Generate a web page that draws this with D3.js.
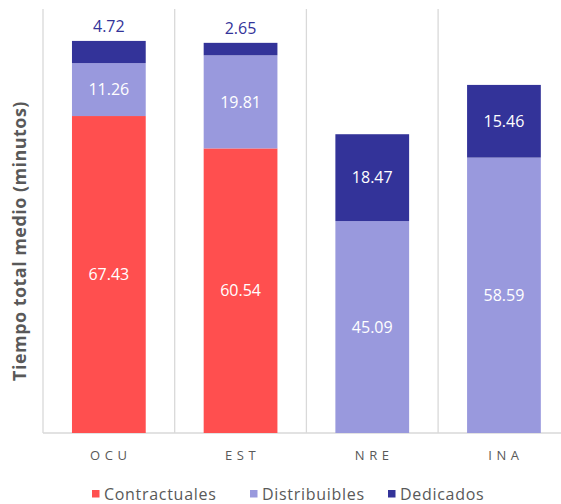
<!DOCTYPE html>
<html>
<head>
<meta charset="utf-8">
<script src="https://cdn.jsdelivr.net/npm/d3@7"></script>
<style>
  body { margin: 0; background: #fff; }
  svg { display: block; }
</style>
</head>
<body>
<svg id="chart" width="561" height="504"></svg>
<script>
const categories = ["OCU", "EST", "NRE", "INA"];
const seriesNames = ["Contractuales", "Distribuibles", "Dedicados"];
const contractuales = [67.43, 60.54, 0, 0];
const distribuibles = [11.26, 19.81, 45.09, 58.59];
const dedicados = [4.72, 2.65, 18.47, 15.46];
const colors = ["#FF4F4F", "#9999DD", "#333399"];

const svg = d3.select("#chart");
const margin = { left: 43, top: 9, bottom: 433 };
const catWidth = 131.7;

var x = d3
  .scaleBand()
  .domain(categories)
  .range([margin.left, margin.left + catWidth * categories.length])
  .padding(0);
var y = d3.scaleLinear().domain([0, 90.2]).range([margin.bottom, margin.top]);

const barW = x.bandwidth() * 0.56;

// build stacked rows
var rows = categories.map((c, i) => ({
  cat: c,
  Contractuales: contractuales[i],
  Distribuibles: distribuibles[i],
  Dedicados: dedicados[i],
}));
var stack = d3.stack().keys(seriesNames)(rows);

// vertical separators
svg
  .append("g")
  .selectAll("line")
  .data(categories.concat(["end"]))
  .enter()
  .append("line")
  .attr("x1", (d, i) => margin.left + i * x.step())
  .attr("x2", (d, i) => margin.left + i * x.step())
  .attr("y1", margin.top)
  .attr("y2", margin.bottom)
  .attr("stroke", "#d9d9d9")
  .attr("stroke-width", 1.3);

// baseline
svg
  .append("line")
  .attr("x1", margin.left)
  .attr("x2", 561)
  .attr("y1", margin.bottom)
  .attr("y2", margin.bottom)
  .attr("stroke", "#d9d9d9")
  .attr("stroke-width", 1.3);

// bars
stack.forEach((s, si) => {
  var g = svg.append("g");
  g.selectAll("rect")
    .data(s.filter((d) => d[1] - d[0] > 0))
    .enter()
    .append("rect")
    .attr("x", (d) => x(d.data.cat) + (x.bandwidth() - barW) / 2)
    .attr("width", barW)
    .attr("y", (d) => y(d[1]))
    .attr("height", (d) => y(d[0]) - y(d[1]))
    .attr("fill", colors[si]);

  g.selectAll("text")
    .data(s.filter((d) => d[1] - d[0] > 0))
    .enter()
    .append("text")
    .attr("x", (d) => x(d.data.cat) + x.bandwidth() / 2)
    .attr("y", (d) => {
      let h = y(d[0]) - y(d[1]);
      return h < 25 ? y(d[1]) - 15 : (y(d[0]) + y(d[1])) / 2;
    })
    .attr("dy", "0.36em")
    .attr("text-anchor", "middle")
    .attr("font-family", "'Open Sans', sans-serif")
    .attr("font-size", 16)
    .attr("fill", (d) => (y(d[0]) - y(d[1]) < 25 ? "#333399" : "#ffffff"))
    .text((d) => (d[1] - d[0]).toFixed(2));
});

// category labels
svg
  .append("g")
  .selectAll("text")
  .data(categories)
  .enter()
  .append("text")
  .attr("x", (d) => x(d) + x.bandwidth() / 2 + 2)
  .attr("y", 455)
  .attr("dy", "0.36em")
  .attr("text-anchor", "middle")
  .attr("font-family", "'Open Sans', sans-serif")
  .attr("font-size", 13)
  .attr("letter-spacing", "4.6px")
  .attr("fill", "#595959")
  .text((d) => d);

// y title
svg
  .append("text")
  .attr("transform", "translate(20, 241) rotate(-90)")
  .attr("dy", "0.36em")
  .attr("text-anchor", "middle")
  .attr("font-family", "'Open Sans', sans-serif")
  .attr("font-weight", "bold")
  .attr("font-size", 18)
  .attr("letter-spacing", "0.45px")
  .attr("fill", "#595959")
  .text("Tiempo total medio (minutos)");

// legend
const legendX = [92, 250, 388];
var leg = svg
  .append("g")
  .selectAll("g")
  .data(seriesNames)
  .enter()
  .append("g")
  .attr("transform", (d, i) => `translate(${legendX[i]}, 494)`);
leg
  .append("rect")
  .attr("x", 0)
  .attr("y", -4)
  .attr("width", 7.5)
  .attr("height", 7.5)
  .attr("fill", (d, i) => colors[i]);
leg
  .append("text")
  .attr("x", 12)
  .attr("y", 0)
  .attr("dy", "0.36em")
  .attr("font-family", "'Open Sans', sans-serif")
  .attr("font-size", 16)
  .attr("letter-spacing", "0.7px")
  .attr("fill", "#595959")
  .text((d) => d);
</script>
</body>
</html>
